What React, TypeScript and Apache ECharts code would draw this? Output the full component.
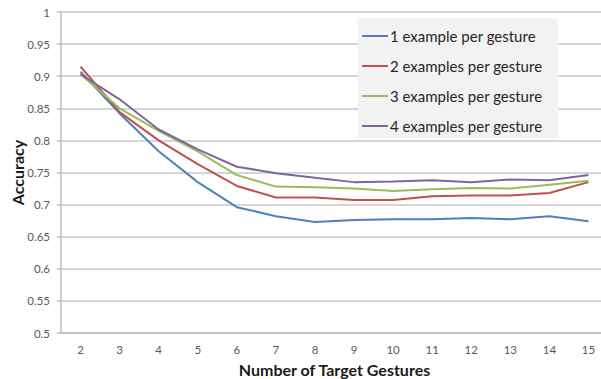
import React, { useEffect, useRef } from "react";
import * as echarts from "echarts";

const categories = ["2", "3", "4", "5", "6", "7", "8", "9", "10", "11", "12", "13", "14", "15"];
const seriesNames = [
  "1 example per gesture",
  "2 examples per gesture",
  "3 examples per gesture",
  "4 examples per gesture",
];
const oneExample = [0.907, 0.842, 0.783, 0.735, 0.696, 0.682, 0.673, 0.676, 0.677, 0.677, 0.679, 0.677, 0.682, 0.674];
const twoExamples = [0.915, 0.844, 0.8, 0.763, 0.729, 0.711, 0.711, 0.707, 0.707, 0.713, 0.714, 0.714, 0.718, 0.735];
const threeExamples = [0.903, 0.85, 0.815, 0.783, 0.746, 0.728, 0.727, 0.725, 0.721, 0.724, 0.726, 0.725, 0.731, 0.737];
const fourExamples = [0.903, 0.864, 0.817, 0.786, 0.759, 0.749, 0.742, 0.735, 0.736, 0.738, 0.735, 0.739, 0.738, 0.746];
const colors = ["#4F81BD", "#C0504D", "#9BBB59", "#8064A2"];

export default function App() {
  const ref = useRef<HTMLDivElement>(null);
  useEffect(() => {
    if (!ref.current) return;
    const chart = echarts.init(ref.current, undefined, { renderer: "svg" });
    const font = "Lato, 'Open Sans', sans-serif";
    const allData = [oneExample, twoExamples, threeExamples, fourExamples];
    chart.setOption({
      animation: false,
      color: colors,
      textStyle: { fontFamily: font },
      grid: { left: 61, top: 12, width: 547, bottom: 46, containLabel: false, outerBoundsMode: "none" },
      graphic: [
        {
          type: "rect",
          z: 3,
          shape: { x: 358, y: 18, width: 200, height: 120 },
          style: { fill: "#f2f2f2" },
        },
      ],
      legend: {
        orient: "vertical",
        left: 362,
        top: 26,
        z: 5,
        icon: "rect",
        itemWidth: 26,
        itemHeight: 2,
        itemGap: 10,
        padding: 0,
        textStyle: { fontFamily: font, fontSize: 15, color: "#262626", lineHeight: 20, padding: [0, 0, 0, -3] },
        data: seriesNames,
      },
      xAxis: {
        type: "category",
        data: categories,
        boundaryGap: true,
        name: "Number of Target Gestures",
        nameLocation: "middle",
        nameGap: 28,
        nameMoveOverlap: false,
        nameTextStyle: { fontFamily: font, fontSize: 16, fontWeight: "bold", color: "#1a1a1a" },
        axisLine: { show: true, lineStyle: { color: "#bfbfbf", width: 1.5 } },
        axisTick: { show: false },
        axisLabel: { fontFamily: font, fontSize: 11.5, color: "#595959", margin: 10 },
        splitLine: { show: false },
      },
      yAxis: {
        type: "value",
        min: 0.5,
        max: 1,
        interval: 0.05,
        name: "Accuracy",
        nameLocation: "middle",
        nameGap: 36,
        nameMoveOverlap: false,
        nameTextStyle: { fontFamily: font, fontSize: 16, fontWeight: "bold", color: "#1a1a1a" },
        axisLine: { show: true, lineStyle: { color: "#bfbfbf", width: 1.5 } },
        axisTick: { show: true, length: 4, lineStyle: { color: "#bfbfbf", width: 1.5 } },
        axisLabel: {
          fontFamily: font,
          fontSize: 11.5,
          color: "#595959",
          margin: 11,
          formatter: (v: number) => String(parseFloat(v.toFixed(2))),
        },
        splitLine: { show: true, lineStyle: { color: "#c8c8c8", width: 1.5 } },
      },
      series: allData.map((d, i) => ({
        name: seriesNames[i],
        type: "line",
        data: d,
        symbol: "none",
        smooth: false,
        lineStyle: { width: 2, color: colors[i] },
        itemStyle: { color: colors[i] },
        z: 2,
      })),
    });
    return () => chart.dispose();
  }, []);
  return (
    <div
      ref={ref}
      style={{ position: "fixed", left: 0, top: 0, width: 601, height: 379, background: "#fff" }}
    />
  );
}
